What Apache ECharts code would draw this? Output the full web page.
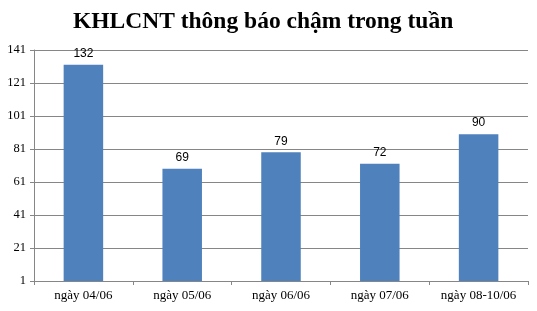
<!DOCTYPE html>
<html><head><meta charset="utf-8">
<script src="https://cdn.jsdelivr.net/npm/echarts@6/dist/echarts.min.js"></script>
<style>html,body{margin:0;padding:0;background:#fff}#c{width:537px;height:311px}</style>
</head><body><div id="c"></div>
<script>
var categories = ["ngày 04/06", "ngày 05/06", "ngày 06/06", "ngày 07/06", "ngày 08-10/06"];
var values = [132, 69, 79, 72, 90];
var titleText = "KHLCNT thông báo chậm trong tuần";
var chart = echarts.init(document.getElementById('c'), null, {renderer: 'canvas'});
chart.setOption({
  animation: false,
  backgroundColor: '#fff',
  title: {
    text: titleText, left: 68, top: 5,
    textStyle: {fontFamily: 'Liberation Serif', fontWeight: 'bold', fontSize: 23.5, color: '#000'}
  },
  grid: {left: 34, right: 9, top: 50, bottom: 30, containLabel: false},
  xAxis: {
    type: 'category', data: categories,
    axisLine: {lineStyle: {color: '#868686', width: 1}},
    axisTick: {show: true, length: 4, lineStyle: {color: '#868686'}},
    axisLabel: {fontFamily: 'Liberation Serif', fontSize: 13, color: '#000', margin: 8}
  },
  yAxis: {
    type: 'value', min: 1, max: 141, interval: 20,
    axisLine: {show: true, lineStyle: {color: '#868686', width: 1}},
    axisTick: {show: true, length: 4, lineStyle: {color: '#868686'}},
    splitLine: {lineStyle: {color: '#868686', width: 1}},
    axisLabel: {fontFamily: 'Liberation Serif', fontSize: 12.5, color: '#000', margin: 8}
  },
  series: [{
    type: 'bar', data: values, barWidth: '40%',
    itemStyle: {color: '#4F81BD'},
    label: {show: true, position: 'top', distance: 5, fontFamily: 'Liberation Sans', fontSize: 12, color: '#000'}
  }]
});
</script></body></html>
